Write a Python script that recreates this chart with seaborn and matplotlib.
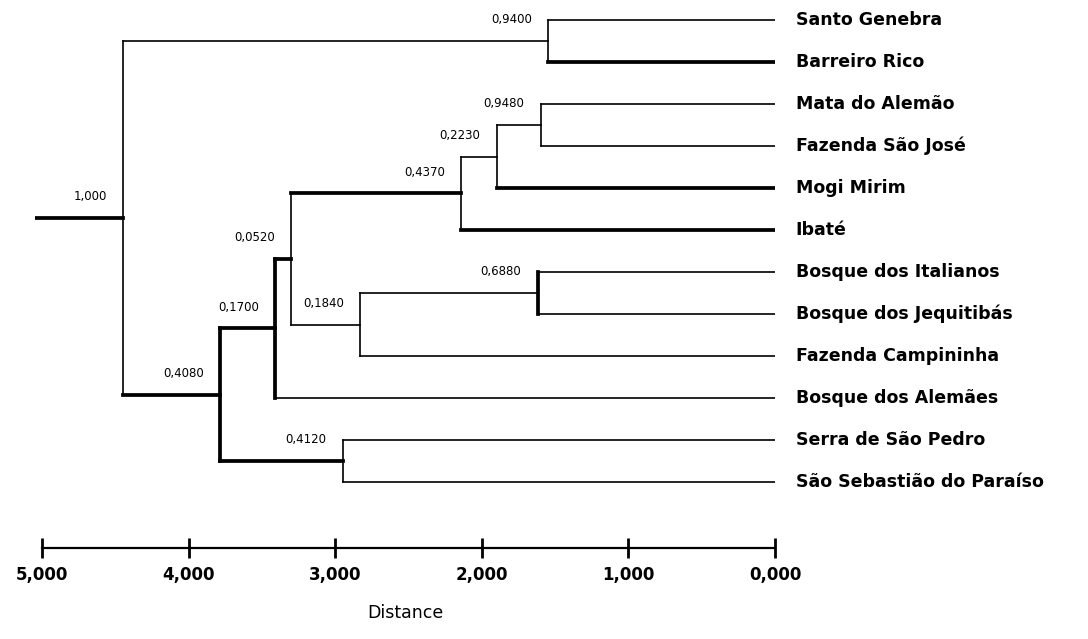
import pandas as pd
import matplotlib
matplotlib.use('Agg')
import matplotlib.pyplot as plt
import seaborn as sns

# Leaves, top to bottom
leaves = ['Santo Genebra', 'Barreiro Rico', 'Mata do Alemão', 'Fazenda São José',
          'Mogi Mirim', 'Ibaté', 'Bosque dos Italianos', 'Bosque dos Jequitibás',
          'Fazenda Campininha', 'Bosque dos Alemães', 'Serra de São Pedro',
          'São Sebastião do Paraíso']
leaf_bold = [False, True, False, False, True, True, False, False, False, False, False, False]

# Merges: children are leaf indices or earlier merges ('n0', 'n1', ...)
node_left = [0, 2, 'n1', 'n2', 6, 'n4', 'n3', 'n6', 10, 'n7', 'n0']
node_right = [1, 3, 4, 5, 7, 8, 'n5', 9, 11, 'n8', 'n9']
node_dist = [1.55, 1.60, 1.90, 2.14, 1.62, 2.83, 3.30, 3.41, 2.95, 3.79, 4.45]
node_label = ['0,9400', '0,9480', '0,2230', '0,4370', '0,6880', '0,1840',
              '0,0520', '0,1700', '0,4120', '0,4080', '1,000']
node_vbold = [False, False, False, False, True, False, False, True, False, True, False]
node_stem_bold = [False, False, False, True, False, False, True, True, True, True, True]
root_stem = 5.05

ticks = [5, 4, 3, 2, 1, 0]
tick_labels = ['5,000', '4,000', '3,000', '2,000', '1,000', '0,000']

# Build the segments of the dendrogram
pos = {}
for i in range(len(leaves)):
    pos[i] = (0.0, float(i), leaf_bold[i])

rows = []
seg = 0
for k in range(len(node_dist)):
    d = node_dist[k]
    ys = []
    for child in (node_left[k], node_right[k]):
        cx, cy, cb = pos[child]
        rows.append((seg, cx, cy, 'bold' if cb else 'thin'))
        rows.append((seg, d, cy, 'bold' if cb else 'thin'))
        seg += 1
        ys.append(cy)
    w = 'bold' if node_vbold[k] else 'thin'
    rows.append((seg, d, ys[0], w))
    rows.append((seg, d, ys[1], w))
    seg += 1
    pos['n%d' % k] = (d, sum(ys) / 2, node_stem_bold[k])

rx, ry, rb = pos['n%d' % (len(node_dist) - 1)]
rows.append((seg, rx, ry, 'bold'))
rows.append((seg, root_stem, ry, 'bold'))

df = pd.DataFrame(rows, columns=['seg', 'x', 'y', 'w'])

sns.set_style('white')
plt.rcParams['text.color'] = 'black'
plt.rcParams['xtick.color'] = 'black'
plt.rcParams['axes.labelcolor'] = 'black'

fig = plt.figure(figsize=(10.88, 6.39), dpi=100)
ax = fig.add_axes([35 / 1088, 1 - 548 / 639, 740 / 1088, 548 / 639])

sns.lineplot(data=df, x='x', y='y', units='seg', estimator=None, sort=False,
             size='w', sizes={'thin': 1.2, 'bold': 2.7}, color='black',
             legend=False, ax=ax, solid_capstyle='projecting')

ax.set_xlim(root_stem, 0)
ax.set_ylim((548 - 20) / 42, -20 / 42)

for i, name in enumerate(leaves):
    ax.text(-0.14, i, name, fontsize=12.5, fontweight='bold', va='center',
            ha='left', clip_on=False, color='black')

for k in range(len(node_dist)):
    x, y, _ = pos['n%d' % k]
    ax.text(x + 0.11, y - 0.5, node_label[k], fontsize=8.5, ha='right',
            va='center', color='black')

for s in ['left', 'top', 'right']:
    ax.spines[s].set_visible(False)
ax.spines['bottom'].set_bounds(5, 0)
ax.spines['bottom'].set_linewidth(1.6)
ax.spines['bottom'].set_color('black')
ax.set_xticks(ticks)
ax.set_xticklabels(tick_labels, fontsize=12, fontweight='bold')
ax.tick_params(axis='x', direction='inout', length=14, width=2, pad=6,
               bottom=True, colors='black')
ax.set_yticks([])
ax.set_ylabel('')
ax.set_xlabel('Distance', fontsize=12.5, labelpad=14, color='black')

fig.savefig('out.png', dpi=100)
